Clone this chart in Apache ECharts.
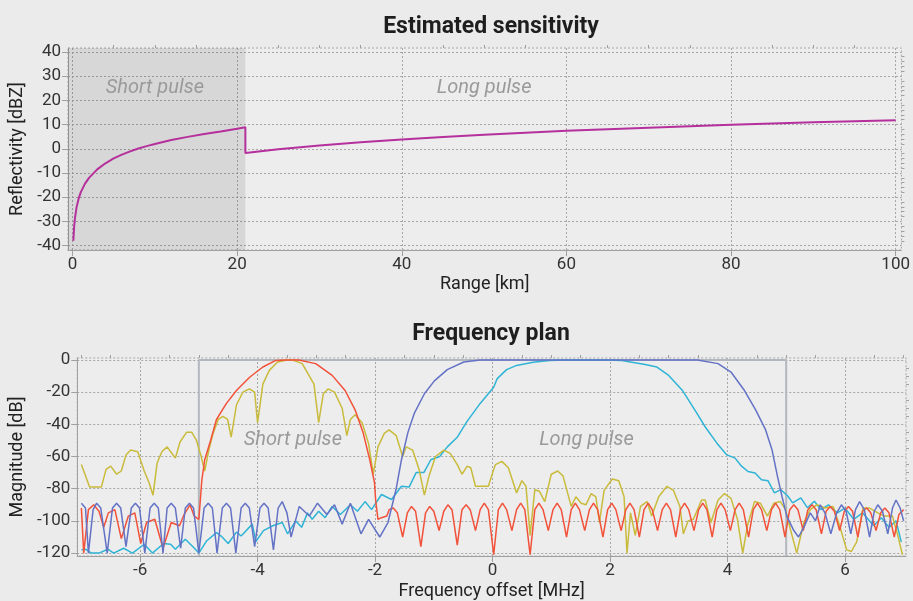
<!DOCTYPE html>
<html><head><meta charset="utf-8">
<script src="https://cdn.jsdelivr.net/npm/echarts@6/dist/echarts.min.js"></script>
<style>html,body{margin:0;padding:0;background:#ebebeb}#c{width:913px;height:601px}</style>
</head><body><div id="c"></div><script>
// ---------- Estimated sensitivity ----------
const rangeShortKm = [0.1,0.2,0.3,0.5,0.75,1,1.5,2,3,4,5,6,7,8,9,10,12,14,16,18,20,21];
const reflShortDbz = [-38,-32,-28.5,-24,-20.5,-18,-14.5,-12,-8.5,-6,-4,-2.4,-1.1,0.1,1.1,2,3.6,4.9,6.1,7.1,8.3,8.9];
const rangeLongKm = [21,25,30,35,40,45,50,55,60,65,70,75,80,85,90,95,100];
const reflLongDbz = [-1.8,-0.2,1.3,2.7,3.8,4.9,5.8,6.6,7.4,8.1,8.7,9.3,9.9,10.4,10.9,11.4,11.8];
const rangeTicks = [0,20,40,60,80,100];
const rangeMinorTicks = [5,10,15,25,30,35,45,50,55,65,70,75,85,90,95];
const reflTicks = [-40,-30,-20,-10,0,10,20,30,40];
const reflMinorTicks = [-38,-36,-34,-32,-28,-26,-24,-22,-18,-16,-14,-12,-8,-6,-4,-2,2,4,6,8,12,14,16,18,22,24,26,28,32,34,36,38];
const shortPulseEndKm = 21;
const rangeAxisMin = -0.55, rangeAxisMax = 100.7;
const reflAxisMin = -41.8, reflAxisMax = 41.6;
const sensLabels = [{text:'Short pulse', at:[10,25]}, {text:'Long pulse', at:[50,25]}];

// ---------- Frequency plan ----------
const shortFilter = [[-7.0,-92],[-6.96,-120],[-6.88,-93],[-6.79,-90],[-6.7,-94],[-6.62,-104],[-6.54,-95],[-6.43,-93],[-6.32,-111],[-6.2,-97],[-6.09,-95],[-5.99,-114],[-5.89,-101],[-5.75,-99],[-5.61,-117],[-5.47,-101],[-5.33,-103],[-5.25,-96],[-5.15,-90],[-5.08,-97],[-5.0,-99],[-4.97,-85],[-4.95,-75],[-4.9,-62],[-4.8,-50],[-4.7,-37],[-4.53,-27],[-4.36,-19],[-4.13,-10.6],[-3.91,-4.4],[-3.69,-0.3],[-3.5,0],[-3.3,0],[-3.01,-2.3],[-2.73,-9.6],[-2.51,-19],[-2.34,-31],[-2.2,-45.6],[-2.09,-62],[-2.01,-76],[-1.99,-87],[-1.95,-99],[-1.89,-98],[-1.8,-97],[-1.76,-93],[-1.69,-92],[-1.62,-95],[-1.53,-110],[-1.45,-95],[-1.38,-91],[-1.31,-94],[-1.22,-116],[-1.14,-95],[-1.07,-91],[-1.0,-94],[-0.91,-106],[-0.83,-94],[-0.76,-90],[-0.69,-93],[-0.6,-115],[-0.52,-93],[-0.45,-90],[-0.38,-93],[-0.29,-106],[-0.21,-93],[-0.14,-89],[-0.07,-93],[0.02,-121],[0.1,-93],[0.17,-89],[0.24,-93],[0.33,-106],[0.41,-93],[0.48,-89],[0.55,-93],[0.64,-121],[0.72,-93],[0.79,-89],[0.86,-93],[0.95,-106],[1.03,-93],[1.1,-89],[1.17,-93],[1.26,-110],[1.34,-93],[1.41,-89],[1.48,-93],[1.57,-106],[1.65,-93],[1.72,-89],[1.79,-93],[1.88,-110],[1.96,-93],[2.03,-89],[2.1,-93],[2.19,-106],[2.27,-93],[2.34,-89],[2.41,-93],[2.5,-110],[2.58,-93],[2.65,-89],[2.72,-93],[2.81,-106],[2.89,-93],[2.96,-89],[3.03,-93],[3.12,-110],[3.2,-93],[3.27,-89],[3.34,-93],[3.43,-106],[3.51,-93],[3.58,-89],[3.65,-93],[3.74,-110],[3.82,-93],[3.89,-89],[3.96,-93],[4.05,-106],[4.13,-93],[4.2,-89],[4.27,-93],[4.36,-110],[4.44,-93],[4.51,-89],[4.58,-93],[4.67,-106],[4.75,-93],[4.82,-89],[4.89,-93],[4.98,-110],[5.06,-93],[5.13,-90],[5.2,-93],[5.29,-106],[5.37,-93],[5.44,-90],[5.51,-93],[5.6,-108],[5.68,-94],[5.75,-91],[5.82,-94],[5.91,-106],[5.99,-94],[6.06,-91],[6.13,-94],[6.22,-110],[6.3,-94],[6.37,-92],[6.44,-95],[6.53,-106],[6.61,-95],[6.68,-92],[6.75,-95],[6.84,-110],[6.92,-96],[7.0,-93]];
const shortSpectrum = [[-7.0,-65],[-6.93,-72],[-6.86,-79],[-6.66,-79],[-6.58,-68],[-6.5,-66],[-6.4,-71],[-6.32,-69],[-6.24,-59],[-6.16,-56],[-6.04,-57],[-5.93,-69],[-5.85,-76],[-5.78,-84],[-5.71,-64],[-5.63,-57],[-5.54,-54],[-5.46,-58],[-5.4,-61],[-5.32,-51],[-5.21,-45],[-5.12,-45],[-5.04,-50],[-4.96,-60],[-4.9,-69],[-4.83,-56],[-4.76,-46],[-4.67,-37],[-4.59,-35],[-4.51,-37],[-4.45,-48],[-4.36,-28],[-4.25,-20],[-4.14,-18],[-4.05,-20],[-4.0,-39],[-3.91,-15],[-3.8,-6.5],[-3.66,-1.3],[-3.5,0],[-3.4,0],[-3.24,-2.3],[-3.04,-15],[-2.96,-39],[-2.88,-21],[-2.8,-18],[-2.69,-20],[-2.56,-30],[-2.48,-47],[-2.42,-37],[-2.34,-34],[-2.22,-39],[-2.11,-52],[-2.03,-71],[-1.95,-54],[-1.84,-45.5],[-1.76,-43.5],[-1.64,-47],[-1.53,-60],[-1.47,-54],[-1.36,-56],[-1.25,-68],[-1.16,-84],[-1.08,-72],[-0.97,-60],[-0.83,-56],[-0.72,-58],[-0.6,-65],[-0.52,-71],[-0.43,-66],[-0.37,-67],[-0.29,-78.5],[-0.07,-78.5],[0.02,-68],[0.05,-65],[0.16,-63],[0.27,-67],[0.41,-82.6],[0.5,-75],[0.57,-78.5],[0.64,-109],[0.72,-80.6],[0.8,-81.6],[0.89,-88],[1.0,-71],[1.11,-69],[1.2,-72],[1.34,-91],[1.42,-85],[1.51,-89],[1.59,-90],[1.68,-83],[1.76,-85],[1.82,-101],[1.9,-81],[2.04,-74],[2.15,-75],[2.24,-85],[2.29,-120],[2.35,-95],[2.43,-109],[2.52,-91],[2.63,-88],[2.71,-97],[2.83,-85],[2.97,-78.5],[3.08,-81],[3.19,-91],[3.25,-108],[3.33,-100],[3.42,-99],[3.56,-87],[3.62,-87],[3.72,-101],[3.84,-87],[3.95,-83],[4.06,-86],[4.17,-99],[4.26,-120],[4.34,-103],[4.46,-88],[4.56,-89],[4.68,-97],[4.79,-89],[4.9,-88],[4.99,-93],[5.07,-105],[5.18,-120],[5.3,-101],[5.41,-93],[5.52,-90],[5.66,-92],[5.8,-91],[5.91,-103],[6.03,-118],[6.11,-119],[6.2,-113],[6.31,-92],[6.42,-92],[6.56,-95],[6.67,-97],[6.81,-97],[6.9,-109],[6.98,-121]];
const longFilter = [[-7.0,-89],[-6.93,-92],[-6.88,-120],[-6.8,-93],[-6.74,-89],[-6.67,-92],[-6.56,-120],[-6.47,-92],[-6.4,-89],[-6.33,-92],[-6.24,-116],[-6.15,-92],[-6.08,-89],[-6.01,-92],[-5.92,-120],[-5.83,-92],[-5.76,-89],[-5.69,-92],[-5.61,-120],[-5.54,-92],[-5.47,-89],[-5.4,-92],[-5.31,-117],[-5.23,-92],[-5.16,-89],[-5.09,-92],[-5.0,-120],[-4.91,-92],[-4.84,-89],[-4.77,-92],[-4.69,-120],[-4.6,-92],[-4.53,-89],[-4.46,-92],[-4.37,-120],[-4.28,-92],[-4.21,-89],[-4.14,-92],[-4.05,-116],[-3.96,-92],[-3.89,-89],[-3.82,-92],[-3.73,-118],[-3.65,-92],[-3.58,-88],[-3.5,-95],[-3.43,-110],[-3.29,-91],[-3.12,-97],[-2.98,-89],[-2.82,-96],[-2.69,-90],[-2.56,-102],[-2.42,-89],[-2.24,-108],[-2.11,-99],[-1.92,-110],[-1.78,-101],[-1.64,-80],[-1.55,-62],[-1.44,-45],[-1.33,-33],[-1.16,-21],[-0.99,-13],[-0.77,-6],[-0.49,-1.3],[-0.21,0],[0.5,0],[1.5,0],[2.5,0],[3.49,0],[3.84,-2.3],[4.06,-7.5],[4.29,-19],[4.48,-31],[4.65,-43.5],[4.76,-56],[4.85,-72],[4.93,-85],[5.01,-97],[5.13,-106],[5.21,-110],[5.3,-104],[5.41,-95],[5.5,-100],[5.58,-90],[5.66,-95],[5.76,-108],[5.86,-95],[5.94,-90],[6.02,-94],[6.1,-108],[6.18,-93],[6.25,-88],[6.33,-93],[6.42,-110],[6.5,-94],[6.56,-90],[6.64,-94],[6.73,-108],[6.81,-92],[6.87,-87],[6.94,-92],[7.0,-100]];
const longSpectrum = [[-7.0,-118],[-6.93,-117.6],[-6.83,-120],[-6.7,-120],[-6.55,-117.6],[-6.45,-120],[-6.28,-117],[-6.13,-120],[-5.93,-114.5],[-5.79,-120],[-5.6,-114],[-5.48,-114.5],[-5.4,-117.6],[-5.23,-111.4],[-5.1,-116],[-5.0,-120],[-4.87,-112.5],[-4.7,-107.3],[-4.62,-109.4],[-4.5,-114],[-4.36,-107],[-4.28,-109.4],[-4.09,-102],[-4.03,-112.8],[-3.9,-106],[-3.74,-103],[-3.58,-101],[-3.49,-108],[-3.35,-100],[-3.25,-104],[-3.15,-95],[-3.07,-99],[-2.96,-94],[-2.85,-98],[-2.73,-91],[-2.59,-96],[-2.42,-90],[-2.3,-94],[-2.17,-88],[-2.06,-93],[-1.89,-83.6],[-1.72,-86.7],[-1.55,-78.5],[-1.42,-79],[-1.3,-70],[-1.17,-70],[-1.05,-62],[-0.9,-60],[-0.77,-54],[-0.6,-48],[-0.43,-38],[-0.21,-27],[0.02,-17],[0.08,-11.6],[0.24,-6],[0.41,-3.4],[0.69,-1.4],[0.97,-0.3],[1.25,0],[1.88,0],[2.2,-0.3],[2.6,-2.8],[2.8,-4.4],[3.0,-9.6],[3.23,-18.8],[3.46,-32],[3.62,-41.5],[3.82,-51.7],[3.99,-59],[4.13,-61],[4.24,-66],[4.35,-69.3],[4.47,-70.3],[4.58,-74.4],[4.69,-75],[4.8,-82.6],[4.91,-80.6],[5.03,-84.7],[5.11,-88.8],[5.25,-85.7],[5.36,-91.8],[5.48,-87.8],[5.59,-93],[5.72,-90],[5.87,-95],[6.0,-92],[6.15,-99],[6.3,-95],[6.49,-103],[6.62,-98],[6.75,-104],[6.87,-100],[6.96,-113]];
const bandEdgesMHz = [-5, 5];
const bandTopDb = 0;
const freqTicks = [-6,-4,-2,0,2,4,6];
const freqMinorTicks = [-7,-6.5,-5.5,-5,-4.5,-3.5,-3,-2.5,-1.5,-1,-0.5,0.5,1,1.5,2.5,3,3.5,4.5,5,5.5,6.5,7];
const magTicks = [-120,-100,-80,-60,-40,-20,0];
const magMinorTicks = [-115,-110,-105,-95,-90,-85,-75,-70,-65,-55,-50,-45,-35,-30,-25,-15,-10,-5];
const freqAxisMin = -7.07, freqAxisMax = 7.04;
const magAxisMin = -121.8, magAxisMax = 1.2;
const planLabels = [{text:'Short pulse', at:[-3.4,-50]}, {text:'Long pulse', at:[1.6,-50]}];

// ---------- build ----------
const FONT = 'Roboto';
const axisGray = '#a0a0a0';
const gridDot = {color:'#a6a6a6', width:1, type:[2,2]};
function mainAxis(grid, min, max, ticks, name, isY, nameGap) {
  return {
    gridIndex: grid, type:'value', min, max,
    name, nameLocation:'middle', nameGap,
    nameTextStyle:{fontFamily:FONT, fontSize:18, color:'#222'},
    axisLine:{show:true, onZero:false, lineStyle:{color:axisGray, width:1}},
    axisTick:{show:true, customValues:ticks, length:6, lineStyle:{color:axisGray}},
    axisLabel:{customValues:ticks, fontFamily:FONT, fontSize:17, color:'#333', margin: isY ? 7 : 6},
    splitLine:{show:true, lineStyle:gridDot}
  };
}
function minorAxis(grid, min, max, ticks) {
  return {
    gridIndex: grid, type:'value', min, max,
    axisLine:{show:false, onZero:false}, axisLabel:{show:false}, splitLine:{show:false},
    axisTick:{show:true, customValues:ticks, length:3, lineStyle:{color:axisGray}}
  };
}
function labelPoints(list) {
  return {
    symbol:'circle', symbolSize:0, silent:true,
    label:{show:true, position:'inside', fontFamily:FONT, fontStyle:'italic', fontSize:20, color:'#9a9a9a',
      formatter: p => p.name},
    data: list.map(l => ({name:l.text, coord:l.at}))
  };
}
const sensData = rangeShortKm.map((r,i)=>[r, reflShortDbz[i]])
  .concat(rangeLongKm.map((r,i)=>[r, reflLongDbz[i]]));
const titleStyle = {fontFamily:FONT, fontWeight:'bold', fontSize:23, color:'#1e1e1e'};

const option = {
  backgroundColor:'#ebebeb',
  animation:false,
  title:[
    {text:'Estimated sensitivity', left:486, textAlign:'center', top:11, textStyle:titleStyle},
    {text:'Frequency plan', left:486, textAlign:'center', top:318, textStyle:titleStyle}
  ],
  grid:[
    {left:68, top:48, width:837, height:202, show:true, backgroundColor:'#ededed', borderColor:'#a6a6a6', borderWidth:1, borderType:[2,2]},
    {left:68, top:358, width:838, height:199, show:true, backgroundColor:'#ededed', borderColor:'#a6a6a6', borderWidth:1, borderType:[2,2]}
  ],
  xAxis:[
    mainAxis(0, rangeAxisMin, rangeAxisMax, rangeTicks, 'Range [km]', false, 25),
    minorAxis(0, rangeAxisMin, rangeAxisMax, rangeMinorTicks),
    mainAxis(1, freqAxisMin, freqAxisMax, freqTicks, 'Frequency offset [MHz]', false, 26),
    minorAxis(1, freqAxisMin, freqAxisMax, freqMinorTicks)
  ],
  yAxis:[
    mainAxis(0, reflAxisMin, reflAxisMax, reflTicks, 'Reflectivity [dBZ]', true, 41),
    minorAxis(0, reflAxisMin, reflAxisMax, reflMinorTicks),
    mainAxis(1, magAxisMin, magAxisMax, magTicks, 'Magnitude [dB]', true, 41),
    minorAxis(1, magAxisMin, magAxisMax, magMinorTicks)
  ],
  series:[
    {type:'line', xAxisIndex:0, yAxisIndex:0, data:sensData, showSymbol:false,
      lineStyle:{color:'#b5309c', width:2}, z:5,
      markArea:{silent:true, itemStyle:{color:'rgba(0,0,0,0.09)'},
        data:[[{xAxis:rangeAxisMin, yAxis:reflAxisMin},{xAxis:shortPulseEndKm, yAxis:reflAxisMax}]]},
      markPoint: labelPoints(sensLabels)},
    {type:'line', xAxisIndex:2, yAxisIndex:2, data:[[bandEdgesMHz[0],magAxisMin],[bandEdgesMHz[0],bandTopDb],[bandEdgesMHz[1],bandTopDb],[bandEdgesMHz[1],magAxisMin]],
      showSymbol:false, lineStyle:{color:'#b3b8bf', width:2}, z:2, markPoint: labelPoints(planLabels)},
    {type:'line', xAxisIndex:2, yAxisIndex:2, data:longSpectrum, showSymbol:false, lineStyle:{color:'#2fb4d6', width:1.5}, z:3},
    {type:'line', xAxisIndex:2, yAxisIndex:2, data:shortSpectrum, showSymbol:false, lineStyle:{color:'#c9bb3c', width:1.5}, z:4},
    {type:'line', xAxisIndex:2, yAxisIndex:2, data:shortFilter, showSymbol:false, lineStyle:{color:'#f2513a', width:1.5}, z:5},
    {type:'line', xAxisIndex:2, yAxisIndex:2, data:longFilter, showSymbol:false, lineStyle:{color:'#6472c6', width:1.5}, z:6}
  ]
};
const chart = echarts.init(document.getElementById('c'), null, {renderer:'canvas'});
chart.setOption(option);
</script></body></html>
